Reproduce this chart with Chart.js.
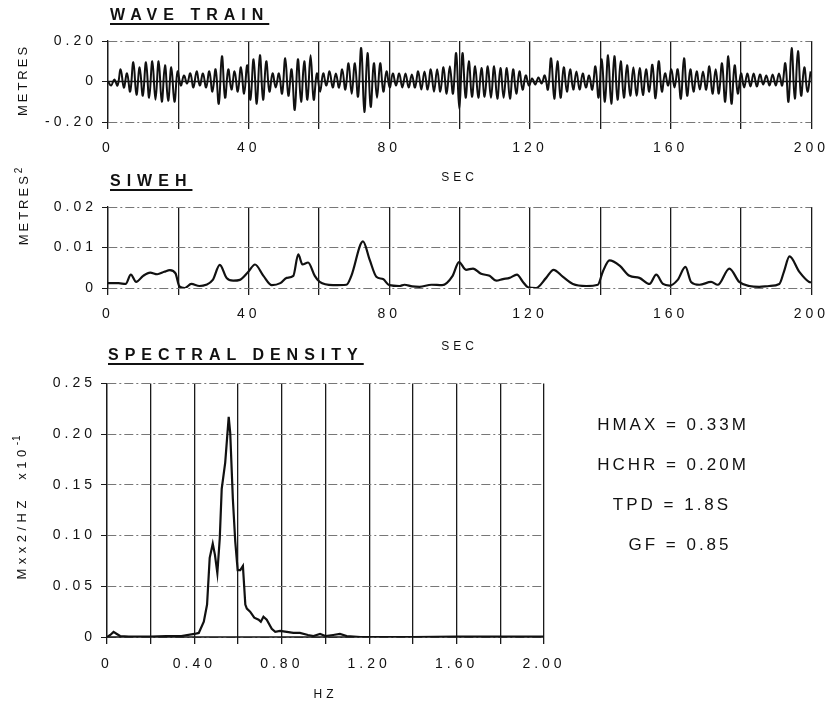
<!DOCTYPE html>
<html lang="en">
<head>
<meta charset="UTF-8">
<title>Wave train, SIWEH and spectral density</title>
<script src="https://cdn.jsdelivr.net/npm/chart.js"></script>
<style>
  body { margin: 0; background: #fff; }
  #page { position: relative; width: 834px; height: 708px; overflow: hidden;
          font-family: "Liberation Sans", Arial, sans-serif; color: #111; }
  canvas { position: absolute; left: 0; }
  .title { position: absolute; font-weight: bold; font-size: 16px; letter-spacing: 6px;
           text-decoration: underline; text-decoration-thickness: 2px; text-underline-offset: 3px;
           transform: translateY(-50%); white-space: nowrap; }
  .ylab { position: absolute; font-size: 13px; letter-spacing: 3px; white-space: nowrap;
          transform: translate(-50%, -50%) rotate(-90deg); }
  .ylab sup { font-size: 10px; letter-spacing: 1px; }
  .note { position: absolute; font-size: 17px; letter-spacing: 3px; white-space: nowrap;
          transform: translate(-50%, -50%); }
</style>
</head>
<body>
<div id="page">
  <canvas id="wave" width="834" height="190" style="top:0"></canvas>
  <canvas id="siweh" width="834" height="180" style="top:190px"></canvas>
  <canvas id="spectrum" width="600" height="338" style="top:370px"></canvas>

  <div class="title" style="left:110px; top:15px">WAVE TRAIN</div>
  <div class="title" style="left:110px; top:181px">SIWEH</div>
  <div class="title" style="left:108px; top:355px">SPECTRAL DENSITY</div>

  <div class="ylab" style="left:22px; top:80px">METRES</div>
  <div class="ylab" style="left:22px; top:206px">METRES<sup>2</sup></div>
  <div class="ylab" style="left:20px; top:507px; letter-spacing:4.5px">Mxx2/HZ&nbsp;&nbsp;x10<sup>-1</sup></div>

  <div class="note" style="left:673px; top:425px">HMAX = 0.33M</div>
  <div class="note" style="left:673px; top:465px">HCHR = 0.20M</div>
  <div class="note" style="left:672px; top:505px">TPD = 1.8S</div>
  <div class="note" style="left:680px; top:545px">GF = 0.85</div>
</div>

<script>
// wave train: surface elevation (m), crests and troughs every 0.9 s
const waveStep = 0.9;
const waveElevation = [
  0.00, -0.02, 0.01, -0.02, 0.06, -0.03, 0.04, -0.05, 0.095, -0.065,
  0.07, -0.07, 0.095, -0.08, 0.10, -0.09, 0.10, -0.10, 0.08, -0.095,
  0.07, -0.10, 0.05, -0.02, 0.03, -0.01, 0.04, -0.03, 0.05, -0.02,
  0.04, -0.03, 0.05, -0.05, 0.06, -0.11, 0.125, -0.08, 0.06, -0.04,
  0.05, -0.05, 0.07, -0.06, 0.08, -0.09, 0.11, -0.11, 0.13, -0.09,
  0.10, -0.05, 0.04, -0.03, 0.04, -0.06, 0.115, -0.07, 0.06, -0.14,
  0.11, -0.10, 0.10, -0.09, 0.13, -0.09, 0.04, -0.05, 0.04, -0.02,
  0.05, -0.03, 0.04, -0.03, 0.06, -0.04, 0.09, -0.06, 0.09, -0.075,
  0.165, -0.15, 0.14, -0.125, 0.09, -0.08, 0.09, -0.05, 0.05, -0.03,
  0.04, -0.02, 0.04, -0.03, 0.04, -0.03, 0.035, -0.03, 0.05, -0.04,
  0.05, -0.04, 0.06, -0.05, 0.06, -0.05, 0.07, -0.06, 0.075, -0.06,
  0.14, -0.135, 0.14, -0.08, 0.10, -0.075, 0.075, -0.08, 0.067, -0.075,
  0.075, -0.08, 0.075, -0.085, 0.067, -0.08, 0.067, -0.085, 0.06, -0.06,
  0.05, -0.04, 0.03, -0.02, 0.015, -0.015, 0.02, -0.01, 0.03, -0.04,
  0.115, -0.085, 0.10, -0.08, 0.07, -0.05, 0.06, -0.04, 0.05, -0.04,
  0.04, -0.03, 0.03, -0.04, 0.075, -0.08, 0.11, -0.10, 0.13, -0.11,
  0.125, -0.09, 0.10, -0.08, 0.08, -0.07, 0.07, -0.07, 0.067, -0.067,
  0.06, -0.05, 0.083, -0.083, 0.10, -0.05, 0.04, -0.02, 0.06, -0.03,
  0.06, -0.085, 0.115, -0.07, 0.06, -0.05, 0.05, -0.04, 0.05, -0.04,
  0.075, -0.06, 0.06, -0.06, 0.09, -0.10, 0.125, -0.11, 0.08, -0.06,
  0.04, -0.03, 0.04, -0.025, 0.04, -0.025, 0.035, -0.015, 0.03, -0.02,
  0.035, -0.02, 0.04, -0.02, 0.09, -0.10, 0.165, -0.085, 0.15, -0.07,
  0.07, -0.05, 0.05
];

// SIWEH (m^2) against time (s)
const siwehTime = [
  0, 3, 5, 6.5, 8, 10, 12, 14, 16, 17.6, 19.2, 20.3, 21.8, 23.7, 26, 27.9, 29.8,
  31.8, 33.7, 35.6, 37.5, 39.9, 41.8, 44.2, 46.6, 49, 50.8, 52.7, 54.1, 55.3, 56.9,
  58.8, 60.2, 64, 67.8, 69.2, 72.5, 74.4, 76.3, 78.2, 80, 82.9, 84.3, 86.5, 88.6,
  92, 95, 98, 99.8, 101.8, 103.8, 106.1, 108.5, 110.4, 112.3, 114.2, 116.3, 118,
  119.4, 121.7, 124.6, 126.7, 129.3, 132.2, 136, 139.3, 140.7, 142.6, 145.5, 148.3,
  151.1, 154, 155.9, 157.8, 159.7, 162, 164.2, 165.8, 168.2, 171.5, 173.4, 176.7,
  179.5, 182.4, 185.2, 188, 190.9, 192.2, 193.8, 196.6, 199.4, 200
];
const siwehValue = [
  0.0012, 0.0012, 0.0010, 0.0033, 0.0015, 0.0030, 0.0038, 0.0034, 0.0040, 0.0044, 0.0036, 0.0004, 0.0000, 0.0010, 0.0005, 0.0008, 0.0020,
  0.0057, 0.0025, 0.0018, 0.0020, 0.0040, 0.0058, 0.0030, 0.0007, 0.0012, 0.0025, 0.0030, 0.0083, 0.0058, 0.0063,
  0.0030, 0.0015, 0.0007, 0.0008, 0.0030, 0.0115, 0.0070, 0.0028, 0.0022, 0.0007, 0.0005, 0.0008, 0.0004, 0.0003,
  0.0008, 0.0007, 0.0030, 0.0064, 0.0045, 0.0048, 0.0035, 0.0030, 0.0018, 0.0022, 0.0025, 0.0033, 0.0015,
  0.0002, 0.0000, 0.0025, 0.0045, 0.0028, 0.0010, 0.0005, 0.0008, 0.0040, 0.0068, 0.0055, 0.0030,
  0.0025, 0.0010, 0.0033, 0.0010, 0.0006, 0.0020, 0.0052, 0.0015, 0.0008, 0.0015, 0.0008, 0.0048,
  0.0015, 0.0005, 0.0003, 0.0005, 0.0010, 0.0040, 0.0078, 0.0040, 0.0015, 0.0014
];

// spectral density (m^2/Hz x 10^-1) against frequency (Hz)
const specFreq = [
  0, 0.015, 0.03, 0.045, 0.06, 0.1, 0.2, 0.27, 0.34, 0.4, 0.42, 0.443, 0.458, 0.47,
  0.484, 0.494, 0.505, 0.516, 0.525, 0.541, 0.557, 0.564, 0.576, 0.587, 0.598, 0.61,
  0.622, 0.633, 0.64, 0.655, 0.674, 0.694, 0.704, 0.716, 0.731, 0.754, 0.77, 0.792,
  0.823, 0.853, 0.883, 0.92, 0.945, 0.975, 1.0, 1.035, 1.066, 1.097, 1.16, 1.4, 1.6, 2.0
];
const specValue = [
  0, 0.002, 0.005, 0.003, 0.001, 0.0005, 0.0005, 0.001, 0.001, 0.003, 0.004, 0.015, 0.032, 0.078,
  0.092, 0.081, 0.063, 0.097, 0.146, 0.172, 0.217, 0.201, 0.136, 0.094, 0.066, 0.066,
  0.070, 0.032, 0.028, 0.025, 0.019, 0.017, 0.015, 0.020, 0.017, 0.008, 0.005, 0.006,
  0.005, 0.004, 0.004, 0.002, 0.001, 0.003, 0.001, 0.002, 0.003, 0.001, 0, 0, 0.0003, 0.0003
];

const waveTicks = { step: 20, labelEvery: 40 };

const fontTicks = { family: '"Liberation Sans", Arial, sans-serif', size: 14 };
const fontAxis = { family: '"Liberation Sans", Arial, sans-serif', size: 12 };

// spaced lettering on canvas text, like the plotter output
const spacedText = {
  id: 'spacedText',
  beforeDraw(chart) { chart.ctx.letterSpacing = '4px'; }
};

// solid line along y = 0
const zeroLine = {
  id: 'zeroLine',
  beforeDatasetsDraw(chart, args, opts) {
    if (!opts.show) return;
    const {ctx, chartArea} = chart;
    const y = chart.scales.y.getPixelForValue(0);
    ctx.save();
    ctx.strokeStyle = '#111';
    ctx.lineWidth = 1.4;
    ctx.setLineDash([]);
    ctx.beginPath();
    ctx.moveTo(chartArea.left, y);
    ctx.lineTo(chartArea.right, y);
    ctx.stroke();
    ctx.restore();
  }
};

function panelOptions(c) {
  return {
    responsive: false,
    animation: false,
    devicePixelRatio: 1,
    layout: { padding: { top: c.padTop, right: c.padRight, left: 0, bottom: 0 } },
    plugins: {
      legend: { display: false },
      tooltip: { enabled: false },
      zeroLine: { show: c.zero }
    },
    scales: {
      x: {
        type: 'linear',
        min: c.xMin, max: c.xMax,
        afterFit: s => { s.height = c.xHeight; },
        ticks: {
          stepSize: c.xStep, autoSkip: false, maxRotation: 0,
          padding: c.xTickPad, color: '#111', font: fontTicks,
          callback: c.xLabel
        },
        grid: { color: '#1a1a1a', lineWidth: 1.3, tickLength: 7, tickColor: '#1a1a1a' },
        border: { display: false },
        title: { display: true, text: c.xTitle, color: '#111', font: fontAxis,
                 padding: { top: 0, bottom: c.xTitlePad } }
      },
      y: {
        min: c.yMin, max: c.yMax,
        afterFit: s => { s.width = c.yWidth; },
        ticks: { stepSize: c.yStep, padding: 5, color: '#111', font: fontTicks,
                 callback: v => Math.abs(v) < 1e-9 ? '0' : v.toFixed(2) },
        grid: { color: '#777', lineWidth: 1, tickLength: 6, tickColor: '#1a1a1a' },
        border: { display: true, color: '#1a1a1a', width: 1.3, dash: [9, 3, 2, 3] }
      }
    }
  };
}

const lineStyle = { borderColor: '#111', pointRadius: 0, fill: false };

new Chart(document.getElementById('wave'), {
  type: 'line',
  data: {
    datasets: [Object.assign({
      data: waveElevation.map((v, i) => ({ x: i * waveStep, y: v })),
      borderWidth: 2, tension: 0.4
    }, lineStyle)]
  },
  options: panelOptions({
    padTop: 41, padRight: 22, xHeight: 68, yWidth: 108,
    xMin: 0, xMax: 200, xStep: waveTicks.step, xTickPad: 11, xTitle: 'SEC', xTitlePad: 5,
    xLabel: v => v % waveTicks.labelEvery === 0 ? String(v) : '',
    yMin: -0.2, yMax: 0.2, yStep: 0.2, zero: true
  }),
  plugins: [spacedText, zeroLine]
});

new Chart(document.getElementById('siweh'), {
  type: 'line',
  data: {
    datasets: [Object.assign({
      data: siwehTime.map((t, i) => ({ x: t, y: siwehValue[i] })),
      borderWidth: 2.2, cubicInterpolationMode: 'monotone'
    }, lineStyle)]
  },
  options: panelOptions({
    padTop: 17, padRight: 22, xHeight: 82, yWidth: 108,
    xMin: 0, xMax: 200, xStep: waveTicks.step, xTickPad: 11, xTitle: 'SEC', xTitlePad: 16,
    xLabel: v => v % waveTicks.labelEvery === 0 ? String(v) : '',
    yMin: 0, yMax: 0.02, yStep: 0.01, zero: false
  }),
  plugins: [spacedText, zeroLine]
});

new Chart(document.getElementById('spectrum'), {
  type: 'line',
  data: {
    datasets: [Object.assign({
      data: specFreq.map((f, i) => ({ x: f, y: specValue[i] })),
      borderWidth: 2.2, tension: 0
    }, lineStyle)]
  },
  options: panelOptions({
    padTop: 10, padRight: 56, xHeight: 71, yWidth: 107,
    xMin: 0, xMax: 2, xStep: 0.2, xTickPad: 12, xTitle: 'HZ', xTitlePad: 6,
    xLabel: v => Math.round(v * 10) % 4 === 0 ? (v === 0 ? '0' : v.toFixed(2)) : '',
    yMin: 0, yMax: 0.25, yStep: 0.05, zero: true
  }),
  plugins: [spacedText, zeroLine]
});
</script>
</body>
</html>
